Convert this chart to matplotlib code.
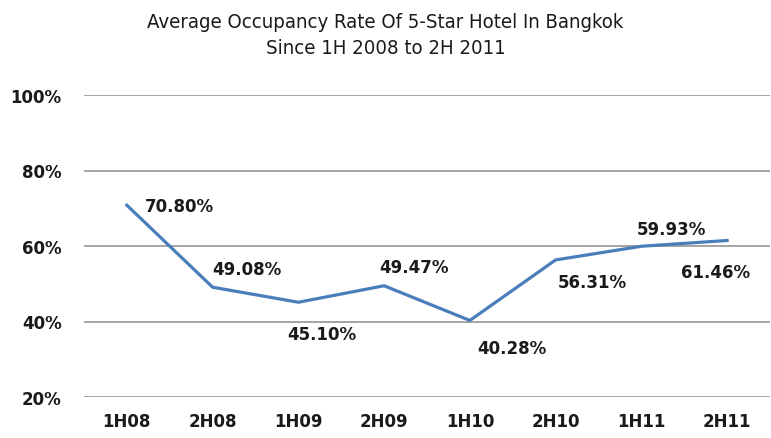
import matplotlib.pyplot as plt

# data
periods = ["1H08", "2H08", "1H09", "2H09", "1H10", "2H10", "1H11", "2H11"]
occupancy = [70.80, 49.08, 45.10, 49.47, 40.28, 56.31, 59.93, 61.46]
y_ticks = [20, 40, 60, 80, 100]

# where each value label sits relative to its point (pixels)
label_offsets = [(53, -1), (34, 18), (23, -32), (30, 19),
                 (42, -28), (37, -22), (30, 17), (-12, -32)]

fig = plt.figure(figsize=(7.71, 4.39), dpi=100)
ax = fig.add_axes([84 / 771, 1 - 398 / 439, 686 / 771, 302 / 439])

x = list(range(len(periods)))
ax.plot(x, occupancy, color="#4A7EBB", linewidth=2.3, solid_joinstyle="round")

for i, v in enumerate(occupancy):
    dx, dy = label_offsets[i]
    ax.annotate(f"{v:.2f}%", (i, v), xytext=(dx, dy), textcoords="offset pixels",
                ha="center", va="center", fontsize=12, fontweight="bold",
                color="#1a1a1a")

ax.set_xlim(-0.5, len(periods) - 0.5)
ax.set_ylim(20, 100)
ax.set_yticks(y_ticks)
ax.set_yticklabels([f"{t}%" for t in y_ticks])
ax.set_xticks(x)
ax.set_xticklabels(periods)
ax.grid(axis="y", color="#959595", linewidth=1.2)
ax.set_axisbelow(True)
for s in ax.spines.values():
    s.set_visible(False)
ax.tick_params(length=0, labelsize=12, labelcolor="#1a1a1a")
ax.tick_params(axis="y", pad=16)
ax.tick_params(axis="x", pad=11)
for lab in ax.get_xticklabels() + ax.get_yticklabels():
    lab.set_fontweight("bold")

fig.text(0.5, 1 - 22 / 439, "Average Occupancy Rate Of 5-Star Hotel In Bangkok",
         ha="center", va="center", fontsize=14.6, stretch="condensed", color="#1a1a1a")
fig.text(0.5, 1 - 49 / 439, "Since 1H 2008 to 2H 2011",
         ha="center", va="center", fontsize=14.6, stretch="condensed", color="#1a1a1a")

fig.savefig("out.png", dpi=100)
